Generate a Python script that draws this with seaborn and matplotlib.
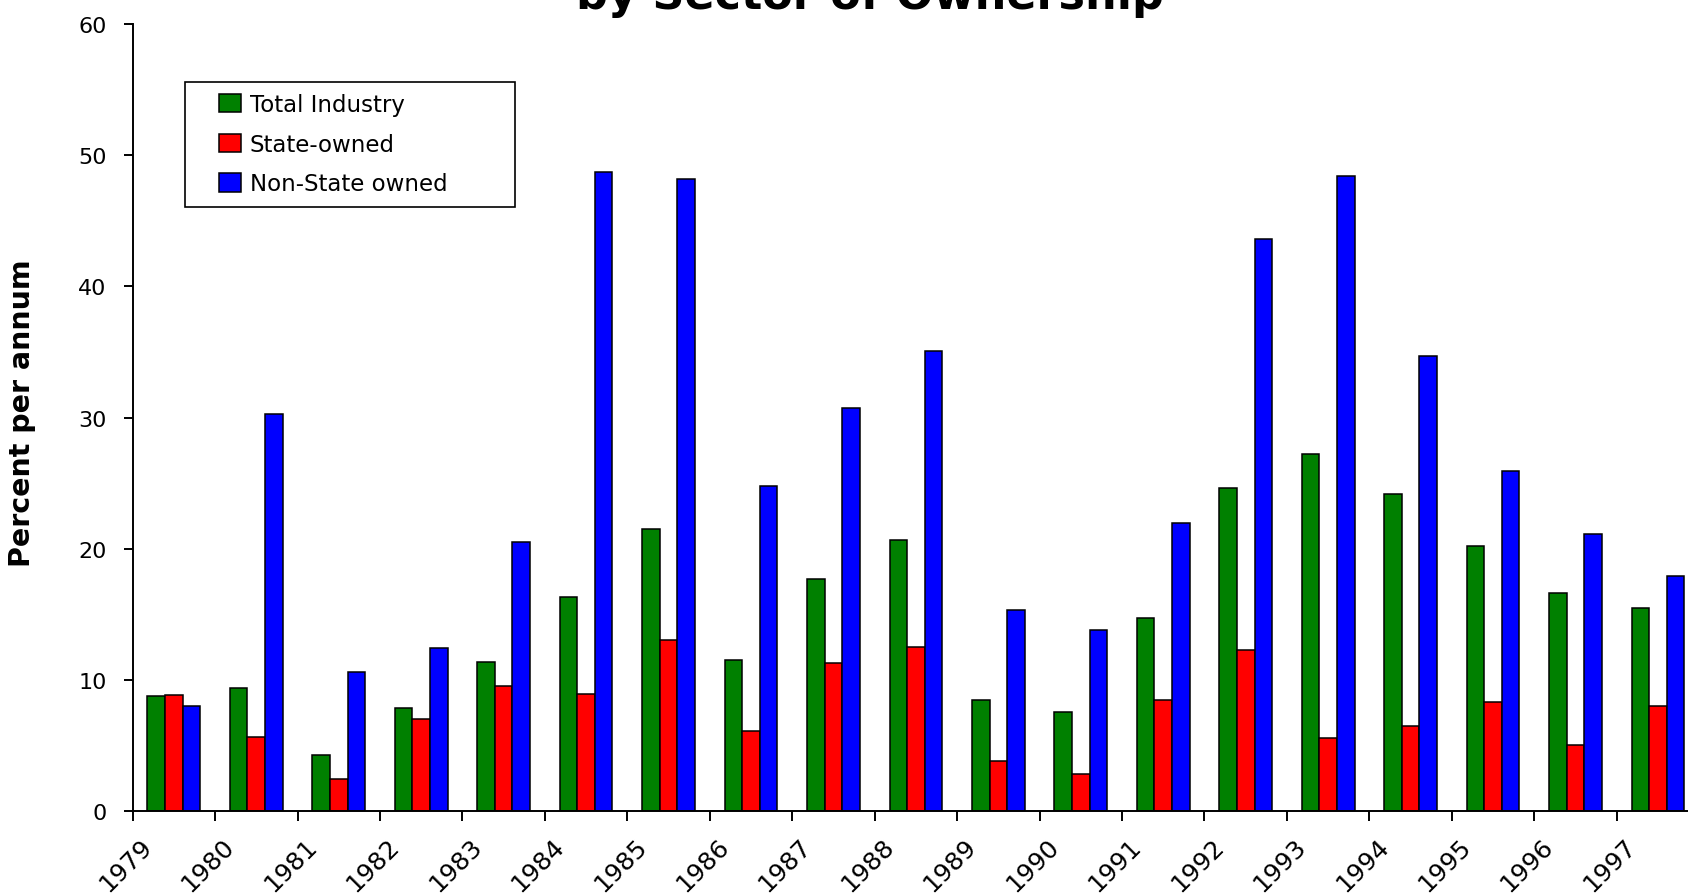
import numpy as np
import pandas as pd
import matplotlib
matplotlib.use("Agg")
import matplotlib.pyplot as plt
import matplotlib.patches as mpatches
from matplotlib.transforms import Bbox, TransformedBbox, ScaledTranslation
import seaborn as sns

# Annual growth of industrial output, percent per annum
years = ["1979", "1980", "1981", "1982", "1983", "1984", "1985", "1986", "1987",
         "1988", "1989", "1990", "1991", "1992", "1993", "1994", "1995", "1996", "1997"]
total_industry = [8.77, 9.36, 4.32, 7.84, 11.39, 16.3, 21.5, 11.55, 17.7,
                  20.7, 8.5, 7.57, 14.75, 24.64, 27.2, 24.15, 20.2, 16.6, 15.52]
state_owned = [8.9, 5.7, 2.44, 7.07, 9.54, 8.92, 13.08, 6.14, 11.3,
               12.52, 3.8, 2.88, 8.5, 12.32, 5.62, 6.53, 8.33, 5.02, 8.06]
non_state_owned = [8.0, 30.3, 10.6, 12.47, 20.55, 48.7, 48.2, 24.8, 30.7,
                   35.1, 15.37, 13.83, 22.0, 43.6, 48.4, 34.7, 25.9, 21.1, 17.9]
series_names = ["Total Industry", "State-owned", "Non-State owned"]
series_colors = ["#008000", "#FF0000", "#0000FF"]
y_ticks = [0, 10, 20, 30, 40, 50, 60]

df = pd.DataFrame({
    "year": years * 3,
    "value": total_industry + state_owned + non_state_owned,
    "series": np.repeat(series_names, len(years)),
})

sns.set_style("ticks")
plt.rcParams["font.family"] = ["DejaVu Sans"]
plt.rcParams["text.color"] = "black"
plt.rcParams["axes.labelcolor"] = "black"

W, H = 1688, 895
fig = plt.figure(figsize=(W / 100, H / 100), dpi=100)
fig.patch.set_facecolor("white")

# plot area runs past the right edge of the canvas
ax = fig.add_axes([132.6 / W, 1 - 812.3 / H, 1566.6 / W, 787.3 / H])

sns.barplot(data=df, x="year", y="value", hue="series", hue_order=series_names,
            order=years, palette=series_colors, width=0.64, gap=0,
            edgecolor="black", linewidth=1.1, saturation=1, errorbar=None,
            legend=False, ax=ax)

ax.set_xlim(-0.5, len(years) - 0.5)
ax.set_ylim(0, 60)
ax.set_yticks(y_ticks)
ax.set_yticklabels([str(v) for v in y_ticks])
ax.set_xticks(np.arange(len(years)) - 0.5)
ax.set_xticklabels(years)
ax.set_xlabel("")

for s in ["top", "right"]:
    ax.spines[s].set_visible(False)
for s in ["left", "bottom"]:
    ax.spines[s].set_linewidth(1.4)
    ax.spines[s].set_color("black")
ax.spines["bottom"].set_clip_on(False)

ax.tick_params(axis="y", direction="out", length=6.7, width=1.4, pad=12,
               labelsize=16, colors="black")
ax.tick_params(axis="x", direction="out", length=7.2, width=1.4, pad=31,
               labelsize=18, colors="black")
shift = ScaledTranslation(-0.07, 0, fig.dpi_scale_trans)
for lab in ax.get_xticklabels():
    lab.set_rotation(45)
    lab.set_ha("center")
    lab.set_va("center")
    lab.set_rotation_mode("anchor")
    lab.set_transform(lab.get_transform() + shift)

# y-axis title, clipped at its top
ylab = ax.set_ylabel("Percent per annum", fontsize=20.5, fontweight="bold",
                     color="black")
ylab.set_horizontalalignment("left")
ax.yaxis.set_label_coords((36 - 132.6) / 1566.6, (812.3 - 567) / 787.3)
ylab.set_clip_box(TransformedBbox(Bbox.from_extents(0, 0, 1, 1 - 262 / H), fig.transFigure))
ylab.set_clip_on(True)

# chart title (upper part falls outside the canvas)
fig.text(869.5 / W, 1 - 9.5 / H, "by Sector of Ownership", ha="center",
         va="baseline", fontsize=32, fontweight="bold", color="black")

# legend with a separate outline box
handles = [mpatches.Patch(facecolor=c, edgecolor="black", linewidth=1.1)
           for c in series_colors]
ax.legend(handles, series_names, loc="upper left",
          bbox_to_anchor=(219 / W, 1 - 94 / H), bbox_transform=fig.transFigure,
          frameon=False, borderpad=0, borderaxespad=0, fontsize=16.5,
          handlelength=0.95, handleheight=0.85, handletextpad=0.4,
          labelspacing=0.73)
frame = mpatches.Rectangle((184.7 / W, 1 - 208.3 / H), (515 - 184.7) / W,
                           (208.3 - 82.7) / H, transform=fig.transFigure,
                           facecolor="none", edgecolor="black", linewidth=1.2)
fig.patches.append(frame)

fig.savefig("out.png", dpi=100, facecolor="white")
